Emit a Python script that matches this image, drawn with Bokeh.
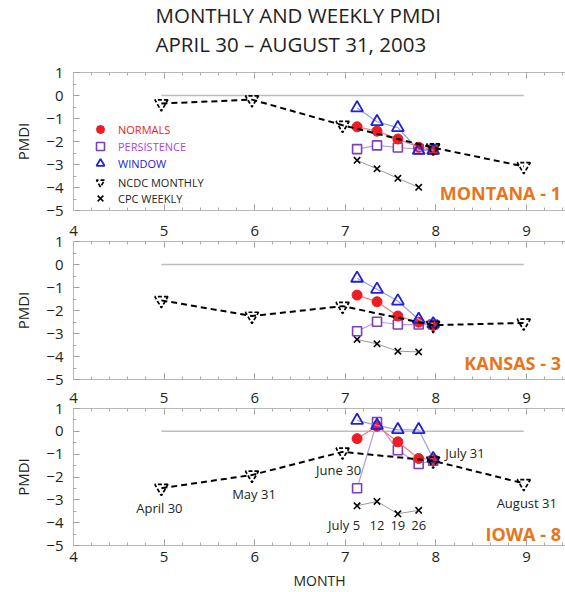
from bokeh.plotting import figure
from bokeh.layouts import column
from bokeh.models import (Title, Legend, LegendItem, SingleIntervalTicker, LinearAxis,
                          Range1d, Label, CustomJSTickFormatter)
from bokeh.embed import file_html
from bokeh.resources import INLINE
from bokeh.core.properties import value

# ---------------- data ----------------
ncdc_x = [4.97, 5.97, 6.97, 7.97, 8.97]          # month ends (Apr 30 .. Aug 31)
model_x = [7.13, 7.35, 7.58, 7.81, 7.97]         # July 5, 12, 19, 26, 31
weekly_x = [7.13, 7.35, 7.58, 7.81]              # July 5, 12, 19, 26

states = ["MONTANA - 1", "KANSAS - 3", "IOWA - 8"]

mt_ncdc = [-0.35, -0.18, -1.29, -2.27, -3.08]
mt_normals = [-1.36, -1.55, -1.89, -2.25, -2.33]
mt_persistence = [-2.33, -2.17, -2.26, -2.33, -2.36]
mt_window = [-0.54, -1.14, -1.40, -2.39, -2.39]
mt_cpc = [-2.82, -3.19, -3.60, -3.99]

ks_ncdc = [-1.56, -2.24, -1.81, -2.64, -2.54]
ks_normals = [-1.33, -1.62, -2.24, -2.51, -2.65]
ks_persistence = [-2.90, -2.49, -2.61, -2.61, -2.61]
ks_window = [-0.60, -1.08, -1.59, -2.39, -2.58]
ks_cpc = [-3.26, -3.45, -3.77, -3.80]

ia_ncdc = [-2.49, -1.91, -0.90, -1.29, -2.28]
ia_normals = [-0.32, 0.22, -0.46, -1.19, -1.23]
ia_persistence = [-2.49, 0.41, -0.83, -1.43, -1.29]
ia_window = [0.48, 0.26, 0.07, 0.07, -1.19]
ia_cpc = [-3.26, -3.07, -3.61, -3.46]

ncdc_labels = ["April 30", "May 31", "June 30", "July 31", "August 31"]
weekly_labels = ["July 5", "12", "19", "26"]

y_ticks = [1, 0, -1, -2, -3, -4, -5]
x_ticks = [4, 5, 6, 7, 8, 9]

legend_names = ["NORMALS", "PERSISTENCE", "WINDOW", "NCDC MONTHLY", "CPC WEEKLY"]

# ---------------- styles ----------------
FONT = "Open Sans"
TXT = "#231f20"
FRAME = "#b8b8b8"
RED = "#ee1c24"
PURPLE_TXT = "#b23fd9"
PURPLE = "#7a3fbf"
BLUE = "#2020dd"
ORANGE = "#e8751a"

W = 565
LEFT = 73
PX_PER_MONTH = 90.6
X_END = 4 + (W - LEFT) / PX_PER_MONTH


def minus(v):
    return ("\u2212" + str(abs(v))) if v < 0 else str(v)


def style_axis(ax, labels, standoff):
    ax.axis_line_color = FRAME
    ax.major_tick_line_color = "#999999"
    ax.minor_tick_line_color = "#aaaaaa"
    ax.major_tick_in = 6
    ax.major_tick_out = 0
    ax.minor_tick_in = 3
    ax.minor_tick_out = 0
    ax.major_label_text_font = FONT
    ax.major_label_text_color = TXT
    ax.major_label_standoff = standoff
    if labels:
        ax.major_label_text_font_size = "15px"
    else:
        ax.formatter = CustomJSTickFormatter(code="return ' '")
        ax.major_label_text_font_size = "1px"


def make_panel(state, state_y, ncdc, normals, persistence, window, cpc, height,
               top, bottom, top_labels, bottom_labels, top_standoff=6, margin_top=0,
               legend=False, notes=False, xlabel=None):
    p = figure(width=W, height=height, output_backend="svg", toolbar_location=None,
               x_range=Range1d(4, X_END), y_range=Range1d(-5, 1),
               min_border_left=LEFT, min_border_right=0, min_border_top=top,
               min_border_bottom=bottom, x_axis_type=None, y_axis_type=None,
               background_fill_color=None, border_fill_color=None,
               margin=(margin_top, 0, 0, 0))
    p.outline_line_color = None
    p.grid.visible = False

    # axes (frame with inward ticks)
    xb = LinearAxis(ticker=SingleIntervalTicker(interval=1, num_minor_ticks=5))
    xtop = LinearAxis(ticker=SingleIntervalTicker(interval=1, num_minor_ticks=5))
    yl = LinearAxis(ticker=SingleIntervalTicker(interval=1, num_minor_ticks=2),
                    major_label_overrides={v: minus(v) for v in y_ticks})
    style_axis(xb, bottom_labels, 6 if bottom_labels else 0)
    style_axis(xtop, top_labels, top_standoff)
    style_axis(yl, True, 10)
    yl.axis_label = "PMDI"
    yl.axis_label_text_font = FONT
    yl.axis_label_text_font_size = "15px"
    yl.axis_label_text_font_style = "normal"
    yl.axis_label_text_color = TXT
    yl.axis_label_standoff = 10
    if xlabel:
        xb.axis_label = xlabel
        xb.axis_label_text_font = FONT
        xb.axis_label_text_font_size = "14px"
        xb.axis_label_text_font_style = "normal"
        xb.axis_label_text_color = TXT
        xb.axis_label_standoff = 6
    p.add_layout(xb, "below")
    p.add_layout(xtop, "above")
    p.add_layout(yl, "left")

    # zero reference line
    p.line([ncdc_x[0], ncdc_x[-1]], [0, 0], line_color="#bdbdbd", line_width=1.5)

    # CPC weekly
    p.line(weekly_x, cpc, line_color="#9a9a9a", line_width=1)
    r_cpc = p.scatter(weekly_x, cpc, marker="x", size=9, line_color="black", line_width=1.6)

    # models
    p.line(model_x, persistence, line_color="#b79ae0", line_width=1.2)
    r_per = p.scatter(model_x, persistence, marker="square", size=9, fill_color="white",
                      line_color=PURPLE, line_width=1.6)
    p.line(model_x, normals, line_color="#f47a7a", line_width=1.2)
    r_nor = p.scatter(model_x, normals, marker="circle", size=10, fill_color=RED,
                      line_color=RED, line_width=1)
    p.line(model_x, window, line_color="#9a9af0", line_width=1.2)
    r_win = p.scatter(model_x, window, marker="triangle", size=12, fill_color=None,
                      line_color=BLUE, line_width=1.8)

    # NCDC monthly
    p.line(ncdc_x, ncdc, line_color="black", line_width=2, line_dash="6 4")
    r_ncdc = p.scatter(ncdc_x, ncdc, marker="inverted_triangle", size=13, fill_color=None,
                       line_color="black", line_width=1.7, line_dash="4 2")

    # state label
    p.add_layout(Label(x=X_END - 0.05, y=state_y, text=state,
                       text_align="right", text_baseline="middle",
                       text_font=FONT, text_font_size="18px",
                       text_font_style="bold", text_color=ORANGE))

    if legend:
        rends = [r_nor, r_per, r_win, r_ncdc, r_cpc]
        colors = [RED, PURPLE_TXT, BLUE, TXT, TXT]
        bottoms = [71, 54, 37, 18, 2]
        for name, r, c, b in zip(legend_names, rends, colors, bottoms):
            lg = Legend(items=[LegendItem(label=name, renderers=[r])], location=(17, b),
                        label_text_color=c, label_text_font=FONT,
                        label_text_font_size="11px", glyph_width=20, glyph_height=20,
                        label_height=20, label_standoff=8, padding=0, margin=0,
                        spacing=0, border_line_color=None, background_fill_alpha=0)
            p.add_layout(lg, "center")

    if notes:
        offs = [(-2, 20, "center"), (2, 19, "center"), (-4, 18, "center"),
                (12, -8, "left"), (3, 20, "center")]
        for xx, yy, t, (dx, dy, al) in zip(ncdc_x, ncdc, ncdc_labels, offs):
            p.text([xx], [yy], text=[t], x_offset=dx, y_offset=dy, text_align=al,
                   text_baseline="middle", text_font=value(FONT), text_font_size="13px",
                   text_color=TXT)
        aligns = ["right", "center", "center", "center"]
        dxs = [3, 0, 0, 0]
        for xx, t, al, dx in zip(weekly_x, weekly_labels, aligns, dxs):
            p.text([xx], [-4.12], text=[t], x_offset=dx, text_align=al,
                   text_baseline="middle", text_font=value(FONT), text_font_size="13px",
                   text_color=TXT)
    return p


p1 = make_panel(states[0], -4.26, mt_ncdc, mt_normals, mt_persistence, mt_window, mt_cpc,
                height=222, top=10, bottom=12, top_labels=False, bottom_labels=False,
                top_standoff=11, legend=True)
p2 = make_panel(states[1], -4.30, ks_ncdc, ks_normals, ks_persistence, ks_window, ks_cpc,
                height=180, top=30, bottom=12, top_labels=True, bottom_labels=False,
                margin_top=-11)
p3 = make_panel(states[2], -4.48, ia_ncdc, ia_normals, ia_persistence, ia_window, ia_cpc,
                height=214, top=30, bottom=46, top_labels=True, bottom_labels=True,
                margin_top=-13, notes=True, xlabel="MONTH")

t2 = Title(text="APRIL 30 \u2013 AUGUST 31, 2003", align="left", offset=82,
           text_font=FONT, text_font_size="20.5px", text_font_style="normal",
           text_color=TXT, standoff=0)
t1 = Title(text="MONTHLY AND WEEKLY PMDI", align="left", offset=82,
           text_font=FONT, text_font_size="20.5px", text_font_style="normal",
           text_color=TXT, standoff=-3)
p1.add_layout(t2, "above")
p1.add_layout(t1, "above")

layout = column(p1, p2, p3, spacing=0)
open("out.html", "w").write(file_html(layout, INLINE))
